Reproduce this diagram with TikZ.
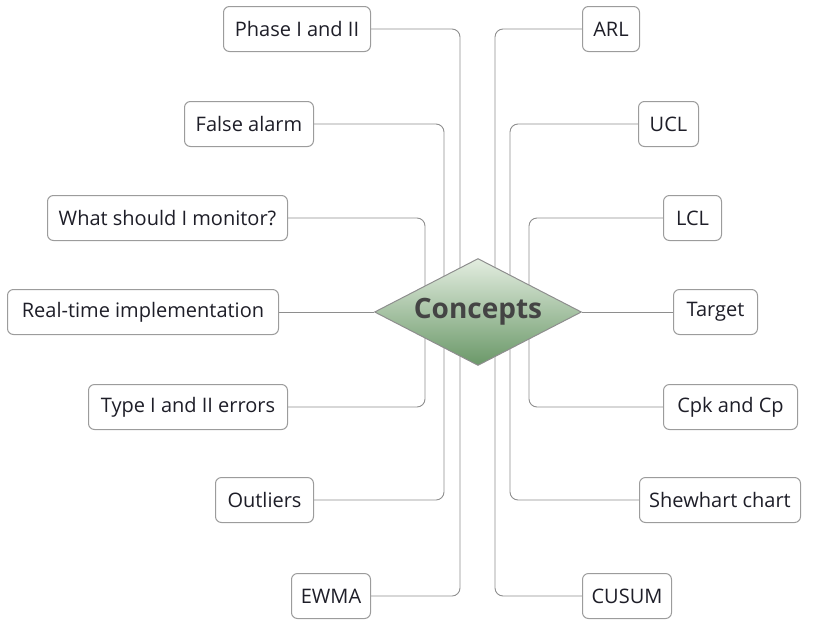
\documentclass[tikz,border=0pt]{standalone}
\usepackage{fontspec}
\setmainfont{Open Sans}
\usetikzlibrary{shapes.geometric,backgrounds}
\definecolor{linegray}{HTML}{8E8E8E}
\definecolor{boxgray}{HTML}{9C9C9C}
\definecolor{txtdark}{HTML}{1E1E28}
\definecolor{hubtext}{HTML}{444444}
\definecolor{greentop}{HTML}{E3EDE0}
\definecolor{greenbot}{HTML}{6A9868}
\tikzset{
  leaf/.style={draw=boxgray, line width=1pt, rounded corners=6pt, fill=white,
    minimum height=45pt, inner xsep=0pt, text=txtdark,
    font=\fontsize{20}{24}\selectfont},
  branch/.style={draw=linegray, line width=0.9pt, rounded corners=8pt},
  hub/.style={diamond, draw=linegray, line width=1pt, top color=greentop,
    bottom color=greenbot, minimum width=207pt, minimum height=107pt,
    aspect=1.93, inner sep=0pt, text=hubtext,
    font=\fontsize{28}{33}\selectfont\bfseries}
}
\begin{document}
\begin{tikzpicture}[x=1pt,y=-1pt]
\useasboundingbox (0,0) rectangle (816,635);
\node[hub] (concepts) at (478,312) {Concepts};
% left side
\foreach \name/\txt/\edge/\bw/\ypos in {phase/Phase I and II/371/147/29,
  alarm/False alarm/314/129/124, monitor/What should I monitor?/288/240/218,
  realtime/Real-time implementation/279/271/312, typeerr/Type I and II errors/288/199/407,
  outliers/Outliers/314/98/500, ewma/EWMA/371/79/596}
\node[leaf, anchor=east, minimum width=\bw] (\name) at (\edge,\ypos) {\txt};
% right side
\foreach \name/\txt/\edge/\bw/\ypos in {arl/ARL/582/57/29,
  ucl/UCL/638/60/124, lcl/LCL/663/58/218, target/Target/673/84/312,
  cpk/Cpk and Cp/663/134/407, shewhart/Shewhart chart/639/161/500,
  cusum/CUSUM/582/89/596}
\node[leaf, anchor=west, minimum width=\bw] (\name) at (\edge,\ypos) {\txt};
\begin{scope}[on background layer]
\foreach \name/\dx in {phase/-18, alarm/-34, monitor/-53, typeerr/-53, outliers/-34, ewma/-18}
\draw[branch] (\name.east) -| ([xshift=\dx pt]concepts.center);
\foreach \name/\dx in {arl/17, ucl/32, lcl/51, cpk/51, shewhart/32, cusum/17}
\draw[branch] (\name.west) -| ([xshift=\dx pt]concepts.center);
\draw[branch] (realtime) -- (concepts);
\draw[branch] (target) -- (concepts);
\end{scope}
\end{tikzpicture}
\end{document}
